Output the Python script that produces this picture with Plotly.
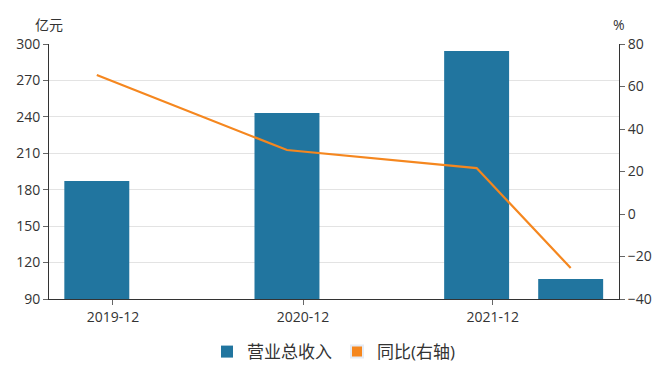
import plotly.graph_objects as go
import pandas as pd

periods = ["2019-12-31", "2020-12-31", "2021-12-31", "2022-06-30"]
revenue = [187.2, 243.2, 294.2, 106.4]      # 营业总收入 (亿元)
yoy = [65.4, 30.1, 21.6, -25.4]             # 同比 (%)
tick_labels = ["2019-12", "2020-12", "2021-12"]

x = pd.to_datetime(periods)
tick_pos = [d + pd.Timedelta(days=31) for d in x[:3]]

BAR = "#21759f"
LINE = "#f5871f"
FONT = "Open Sans, Noto Sans CJK SC, sans-serif"

fig = go.Figure()
fig.add_trace(go.Bar(x=x, y=revenue, name="营业总收入", marker_color=BAR,
                     marker_line_width=0, width=125 * 86400000, yaxis="y"))
fig.add_trace(go.Scatter(x=x, y=yoy, name="同比(右轴)", mode="lines",
                         line=dict(color=LINE, width=2.2), yaxis="y2", showlegend=False))
# legend entry styled as a filled block
fig.add_trace(go.Bar(x=[None], y=[None], name="同比(右轴)", marker_color=LINE, yaxis="y"))

axis_common = dict(showline=True, linecolor="#333", linewidth=1,
                   ticks="outside", ticklen=5, tickcolor="#666",
                   zeroline=False, automargin=False,
                   tickfont=dict(size=14, color="#333"))

fig.update_layout(
    width=659, height=372,
    margin=dict(l=41, r=48, t=36, b=81, autoexpand=False),
    paper_bgcolor="white", plot_bgcolor="white",
    font=dict(family=FONT, size=14, color="#333"),
    barmode="overlay",
    xaxis=dict(type="date", range=["2019-09-30", "2022-10-01"],
               tickvals=tick_pos, ticktext=tick_labels, showgrid=False, **axis_common),
    yaxis=dict(range=[90, 300], dtick=30, tick0=90, gridcolor="#e3e3e3", **axis_common),
    yaxis2=dict(range=[-40, 80], dtick=20, tick0=-40, overlaying="y", side="right",
                showgrid=False, **axis_common),
    legend=dict(orientation="h", x=0.5, xanchor="center", y=-0.208, yanchor="middle",
                font=dict(size=17, color="#333"), itemsizing="constant"),
    annotations=[
        dict(text="亿元", xref="paper", yref="paper", x=0, y=1, yshift=20,
             xanchor="center", yanchor="middle", showarrow=False, font=dict(size=14, color="#333")),
        dict(text="%", xref="paper", yref="paper", x=1, y=1, yshift=20,
             xanchor="center", yanchor="middle", showarrow=False, font=dict(size=14, color="#333")),
    ],
)

fig.write_html("out.html")
